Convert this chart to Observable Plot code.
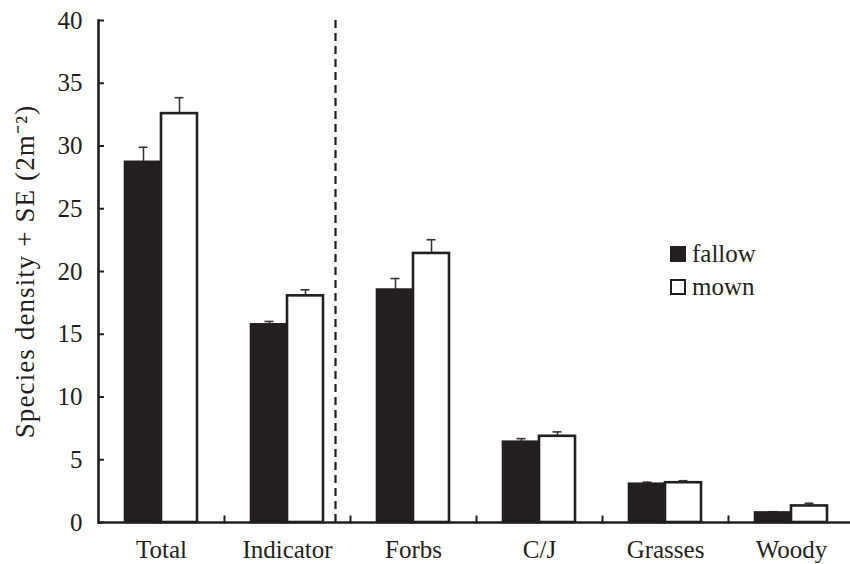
<!DOCTYPE html>
<html>
<head>
<meta charset="utf-8">
<script src="https://cdn.jsdelivr.net/npm/d3@7"></script>
<script src="https://cdn.jsdelivr.net/npm/@observablehq/plot@0.6"></script>
<style>
  body { margin: 0; background: #fff; }
  #wrap { position: relative; width: 850px; height: 564px; font-family: "Liberation Serif", "Times New Roman", serif; color: #231f20; }
  #legend { position: absolute; left: 670px; top: 237px; font-size: 25px; line-height: 33px; }
  #legend .row { display: flex; align-items: center; }
  #legend .sw { width: 12px; height: 12px; border: 2px solid #231f20; margin-right: 6px; box-sizing: content-box; }
  g[aria-label="y-axis label"], g[aria-label="y-axis label"] text { font-size: 27px; letter-spacing: 1.1px; }
</style>
</head>
<body>
<div id="wrap"><div id="legend"></div></div>
<script>
const categories = ["Total", "Indicator", "Forbs", "C/J", "Grasses", "Woody"];
const treatments = ["fallow", "mown"];
const fallow   = [28.7, 15.75, 18.52, 6.40, 3.05, 0.76];
const fallowSE = [1.20, 0.27, 0.92, 0.28, 0.16, 0.10];
const mown     = [32.58, 18.06, 21.44, 6.87, 3.17, 1.32];
const mownSE   = [1.27, 0.48, 1.09, 0.35, 0.16, 0.21];
const yTicks = [0, 5, 10, 15, 20, 25, 30, 35, 40];
const dividerAfter = "Indicator";
const colors = {fallow: "#231f20", mown: "#ffffff"};

const rows = [];
categories.forEach((c, i) => {
  rows.push({cat: c, t: "fallow", v: fallow[i], se: fallowSE[i]});
  rows.push({cat: c, t: "mown", v: mown[i], se: mownSE[i]});
});

const ink = "#231f20";
const chart = Plot.plot({
  width: 850,
  height: 564,
  marginLeft: 95,
  marginRight: -6,
  marginTop: 20,
  marginBottom: 42,
  style: {fontFamily: "'Liberation Serif', 'Times New Roman', serif", color: ink, background: "transparent"},
  fx: {domain: categories, padding: 0, axis: null, label: null},
  x: {domain: treatments, paddingInner: 0, paddingOuter: 0.727, axis: null},
  y: {domain: [0, 40], axis: null},
  marks: [
    Plot.ruleX([{cat: dividerAfter, t: "mown"}], {fx: "cat", x: "t", dx: 30, stroke: ink, strokeWidth: 2.2, strokeDasharray: "8,5"}),
    Plot.ruleX(rows, {fx: "cat", x: "t", y1: "v", y2: d => d.v + d.se, stroke: "#3a3637", strokeWidth: 1.6}),
    Plot.tickY(rows, {fx: "cat", x: "t", y: d => d.v + d.se, stroke: "#3a3637", strokeWidth: 1.6, insetLeft: 13.5, insetRight: 13.5}),
    Plot.barY(rows, {fx: "cat", x: "t", y: "v", fill: d => colors[d.t], stroke: ink, strokeWidth: 2.6}),
    Plot.ruleY([0], {stroke: ink, strokeWidth: 2.6}),
    Plot.frame({anchor: "right", insetTop: 496, stroke: ink, strokeWidth: 2}),
    Plot.frame({anchor: "left", facetAnchor: "left", stroke: ink, strokeWidth: 2.6}),
    Plot.axisY({ticks: yTicks, tickSize: -6, tickPadding: 22, stroke: ink, strokeWidth: 2, fontSize: 25, fill: ink,
      label: "Species density + SE (2m\u207B\u00B2)", labelAnchor: "center", labelOffset: 84, labelArrow: "none"}),
    Plot.axisFx({anchor: "bottom", tickSize: 0, tickPadding: 18, fontSize: 25, fill: ink, label: null})
  ]
});
document.getElementById("wrap").prepend(chart);

const legend = document.getElementById("legend");
treatments.forEach(t => {
  const row = document.createElement("div");
  row.className = "row";
  const sw = document.createElement("div");
  sw.className = "sw";
  sw.style.background = colors[t];
  const label = document.createElement("span");
  label.textContent = t;
  row.append(sw, label);
  legend.append(row);
});
</script>
</body>
</html>
